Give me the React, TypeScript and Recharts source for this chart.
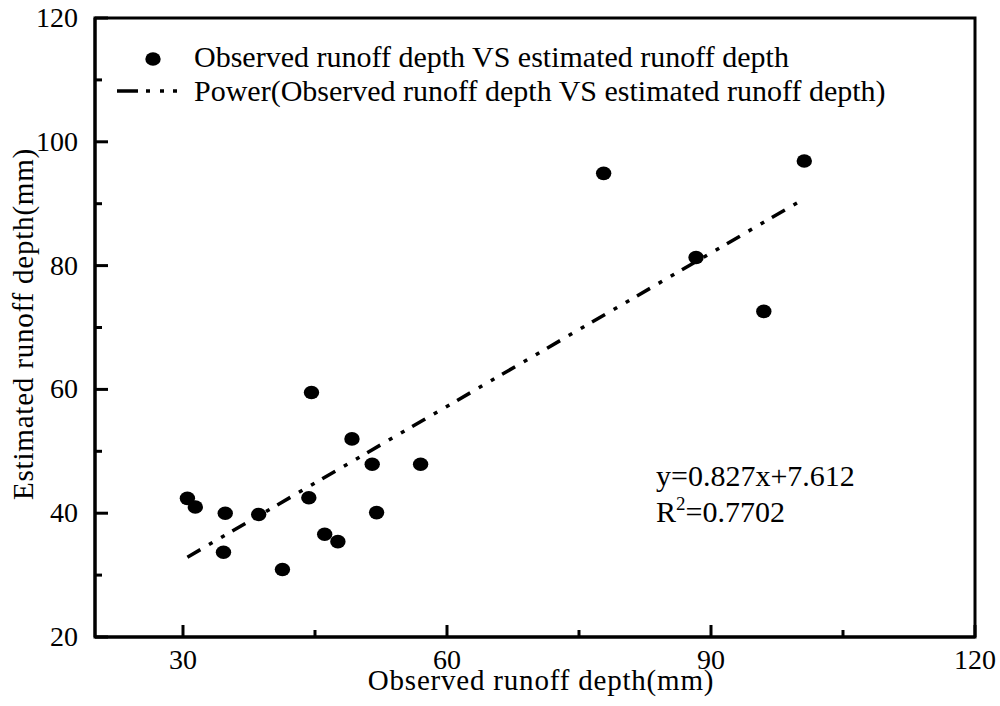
import { ScatterChart, Scatter, XAxis, YAxis, ReferenceArea, Label } from 'recharts'

const observed = [30.5, 31.4, 34.8, 34.6, 38.6, 41.3, 44.6, 44.3, 46.1, 47.6, 49.2, 51.5, 52.0, 57.0, 77.8, 88.3, 96.0, 100.6]
const estimated = [42.4, 41.0, 40.0, 33.7, 39.8, 30.9, 59.5, 42.5, 36.6, 35.4, 52.0, 47.9, 40.1, 47.9, 94.9, 81.3, 72.6, 96.9]

// fitted line end points
const fitX = [30.5, 100.6]
const fitY = [32.9, 90.8]

const xTicks = [30, 45, 60, 75, 90, 105, 120]
const xLabels = [30, 60, 90, 120]
const yTicks = [20, 30, 40, 50, 60, 70, 80, 90, 100, 110, 120]
const yLabels = [20, 40, 60, 80, 100, 120]

const points = observed.map((x, i) => ({ x, y: estimated[i] }))
const fit = fitX.map((x, i) => ({ x, y: fitY[i] }))

const FONT = '"Liberation Serif", "Times New Roman", serif'
const DASH = '15 10 4 10 4 9'

function XTick({ x, y, payload }: any) {
  const major = xLabels.includes(payload.value)
  return (
    <g>
      <line x1={x} x2={x} y1={y} y2={y - (major ? 12 : 7)} stroke="#000" strokeWidth={3} />
      {major && (
        <text x={x} y={y + 32} textAnchor="middle" fontFamily={FONT} fontSize={28} fill="#000">
          {payload.value}
        </text>
      )}
    </g>
  )
}

function YTick({ x, y, payload }: any) {
  const major = yLabels.includes(payload.value)
  return (
    <g>
      <line x1={x} x2={x + (major ? 13 : 7)} y1={y} y2={y} stroke="#000" strokeWidth={3} />
      {major && (
        <text x={x - 17} y={y + 9} textAnchor="end" fontFamily={FONT} fontSize={28} fill="#000">
          {payload.value}
        </text>
      )}
    </g>
  )
}

const Dot = (props: any) => <ellipse cx={props.cx} cy={props.cy} rx={7.7} ry={6.8} fill="#000" />

export default function App() {
  return (
    <div style={{ position: 'absolute', left: 0, top: 0, width: 1000, height: 706, background: '#fff' }}>
      <ScatterChart width={1000} height={706} margin={{ top: 18, right: 25, bottom: 0, left: 0 }}>
        <XAxis
          type="number"
          dataKey="x"
          domain={[20, 120]}
          ticks={xTicks}
          interval={0}
          height={69}
          tickSize={0}
          tickMargin={0}
          tickLine={false}
          tick={<XTick />}
          axisLine={{ stroke: '#000', strokeWidth: 3 }}
        >
          <Label
            content={() => (
              <text x={541} y={690} textAnchor="middle" fontFamily={FONT} fontSize={29} letterSpacing={0.8} fill="#000">
                Observed runoff depth(mm)
              </text>
            )}
          />
        </XAxis>
        <YAxis
          type="number"
          dataKey="y"
          domain={[20, 120]}
          ticks={yTicks}
          interval={0}
          width={95}
          tickSize={0}
          tickMargin={0}
          tickLine={false}
          tick={<YTick />}
          axisLine={{ stroke: '#000', strokeWidth: 3 }}
        >
          <Label
            content={() => (
              <text
                transform="translate(33,324) rotate(-90)"
                textAnchor="middle"
                fontFamily={FONT}
                fontSize={29}
                letterSpacing={0.8}
                fill="#000"
              >
                Estimated runoff depth(mm)
              </text>
            )}
          />
        </YAxis>
        <ReferenceArea x1={20} x2={120} y1={20} y2={120} fill="none" stroke="#000" strokeWidth={3} />
        <Scatter
          data={fit}
          line={{ stroke: '#000', strokeWidth: 3.5, strokeDasharray: DASH }}
          shape={() => <g />}
          isAnimationActive={false}
        />
        <Scatter data={points} shape={Dot} isAnimationActive={false} />
      </ScatterChart>

      {/* legend and fit annotation */}
      <svg width={1000} height={706} style={{ position: 'absolute', left: 0, top: 0, pointerEvents: 'none' }}>
        <ellipse cx={153} cy={59} rx={7.7} ry={6.8} fill="#000" />
        <text x={194} y={67} fontFamily={FONT} fontSize={30} fill="#000">
          Observed runoff depth VS estimated runoff depth
        </text>
        <line x1={117} x2={182} y1={91} y2={91} stroke="#000" strokeWidth={3.5} strokeDasharray="21 8 4 10 4 9 4 100" />
        <text x={194} y={101} fontFamily={FONT} fontSize={30} fill="#000">
          Power(Observed runoff depth VS estimated runoff depth)
        </text>
        <text x={656} y={486} fontFamily={FONT} fontSize={30} fill="#000">
          y=0.827x+7.612
        </text>
        <text x={656} y={522} fontFamily={FONT} fontSize={30} fill="#000">
          R<tspan dy={-12} fontSize={19}>2</tspan>
          <tspan dy={12}>=0.7702</tspan>
        </text>
      </svg>
    </div>
  )
}
